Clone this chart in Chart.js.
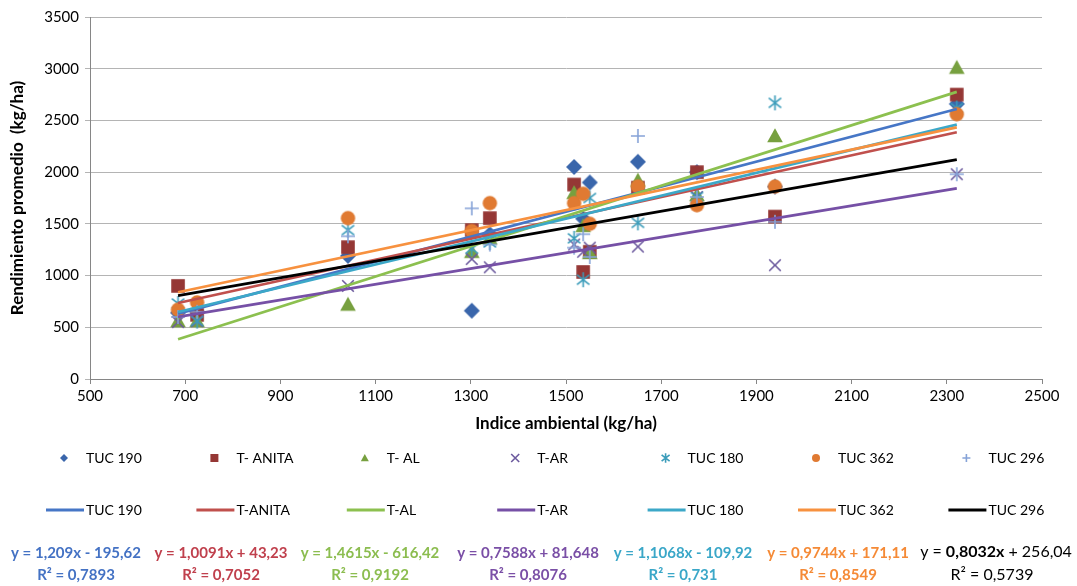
<!DOCTYPE html>
<html>
<head>
<meta charset="utf-8">
<script src="https://cdn.jsdelivr.net/npm/chart.js@4.4.1/dist/chart.umd.min.js"></script>
<style>
  html, body { margin: 0; padding: 0; background: #fff; }
  #wrap { position: relative; width: 1077px; height: 586px; }
</style>
</head>
<body>
<div id="wrap"><canvas id="grafico" width="1077" height="586"></canvas></div>
<script>
/* Rendimiento promedio vs índice ambiental — 7 genotipos */

// índice ambiental (kg/ha) de cada ambiente
const indiceAmbiental = [685, 725, 1042, 1302, 1340, 1517, 1536, 1550, 1651, 1775, 1939, 2321];

// rendimiento promedio (kg/ha) por genotipo, mismo orden de ambientes
const tuc190  = [640, 650, 1190, 660, 1400, 2050, 1550, 1900, 2100, 2000, 1860, 2660];
const tAnita  = [900, 620, 1275, 1440, 1555, 1880, 1035, 1230, 1850, 2000, 1570, 2750];
const tAl     = [560, 560, 720, 1230, 1360, 1800, 1480, 1220, 1920, 1780, 2350, 3010];
const tAr     = [550, 560, 900, 1160, 1080, 1300, 1230, 1270, 1280, 1760, 1100, 1980];
const tuc180  = [730, 560, 1440, 1260, 1320, 1360, 960, 1750, 1510, 1760, 2670, 2620];
const tuc362  = [670, 740, 1555, 1430, 1700, 1700, 1790, 1500, 1860, 1680, 1860, 2560];
const tuc296  = [600, 650, 1380, 1650, 1300, 1270, 1400, 1180, 2350, 1760, 1520, 1980];

const nombresPuntos = ['TUC 190', 'T- ANITA', 'T- AL', 'T-AR', 'TUC 180', 'TUC 362', 'TUC 296'];
const nombresLineas = ['TUC 190', 'T-ANITA', 'T-AL', 'T-AR', 'TUC 180', 'TUC 362', 'TUC 296'];

// líneas de tendencia (tal como las muestra el gráfico)
const pendientes = [1.209, 1.0091, 1.4615, 0.7588, 1.1068, 0.9744, 0.8032];
const ordenadas  = [-195.62, 43.23, -616.42, 81.648, -109.92, 171.11, 256.04];
const ecuaciones = ['y = 1,209x - 195,62', 'y = 1,0091x + 43,23', 'y = 1,4615x - 616,42',
                    'y = 0,7588x + 81,648', 'y = 1,1068x - 109,92', 'y = 0,9744x + 171,11', 'y = 0,8032x + 256,04'];
const r2Textos   = ['R² = 0,7893', 'R² = 0,7052', 'R² = 0,9192', 'R² = 0,8076', 'R² = 0,731', 'R² = 0,8549', 'R² = 0,5739'];

const series = [tuc190, tAnita, tAl, tAr, tuc180, tuc362, tuc296];

// estilos
const marcas = [
  { tipo: 'rombo',     color: '#3a66ab', r: 8 },
  { tipo: 'cuadrado',  color: '#953735', r: 6.8 },
  { tipo: 'triangulo', color: '#77a03f', r: 7.8 },
  { tipo: 'equis',     color: '#6c5a9e', r: 5.8 },
  { tipo: 'asterisco', color: '#3b9cba', r: 6.2 },
  { tipo: 'circulo',   color: '#e07a32', r: 7.2 },
  { tipo: 'mas',       color: '#86a3d8', r: 7 },
];
const coloresLinea = ['#4676c6', '#c0504d', '#8cc04f', '#7650a6', '#3ca8c8', '#f7913f', '#000000'];
const coloresEcuacion = ['#4472c4', '#c0404d', '#8cbd50', '#7a4fa6', '#3aa7c8', '#f58a36', '#000000'];
const FUENTE = 'Lato, "Open Sans", sans-serif';

function dibujarMarca(ctx, tipo, x, y, r, color) {
  ctx.save();
  ctx.fillStyle = color;
  ctx.strokeStyle = color;
  ctx.lineWidth = 1.6;
  ctx.beginPath();
  switch (tipo) {
    case 'rombo':
      ctx.moveTo(x, y - r); ctx.lineTo(x + r, y); ctx.lineTo(x, y + r); ctx.lineTo(x - r, y);
      ctx.closePath(); ctx.fill(); break;
    case 'cuadrado':
      ctx.rect(x - r, y - r, 2 * r, 2 * r); ctx.fill(); break;
    case 'triangulo':
      ctx.moveTo(x, y - r); ctx.lineTo(x + r, y + r * 0.8); ctx.lineTo(x - r, y + r * 0.8);
      ctx.closePath(); ctx.fill(); break;
    case 'equis':
      ctx.moveTo(x - r, y - r); ctx.lineTo(x + r, y + r);
      ctx.moveTo(x + r, y - r); ctx.lineTo(x - r, y + r); ctx.stroke(); break;
    case 'asterisco':
      ctx.moveTo(x - r, y - r * 0.8); ctx.lineTo(x + r, y + r * 0.8);
      ctx.moveTo(x + r, y - r * 0.8); ctx.lineTo(x - r, y + r * 0.8);
      ctx.moveTo(x, y - r * 1.2); ctx.lineTo(x, y + r * 1.2); ctx.stroke(); break;
    case 'circulo':
      ctx.arc(x, y, r, 0, Math.PI * 2); ctx.fill(); break;
    case 'mas':
      ctx.moveTo(x - r, y); ctx.lineTo(x + r, y);
      ctx.moveTo(x, y - r); ctx.lineTo(x, y + r); ctx.stroke(); break;
  }
  ctx.restore();
}

function imagenMarca(m) {
  const c = document.createElement('canvas');
  const s = Math.ceil(m.r * 2 + 6);
  c.width = s; c.height = s;
  dibujarMarca(c.getContext('2d'), m.tipo, s / 2, s / 2, m.r, m.color);
  return c;
}

const xMin = Math.min(...indiceAmbiental);
const xMax = Math.max(...indiceAmbiental);

const datasets = [];
series.forEach((vals, i) => {
  datasets.push({
    label: nombresPuntos[i],
    data: indiceAmbiental.map((x, k) => ({ x, y: vals[k] })),
    pointStyle: imagenMarca(marcas[i]),
    pointRadius: marcas[i].r,
    showLine: false,
    order: 20 - i,
  });
});
series.forEach((vals, i) => {
  datasets.push({
    label: nombresLineas[i],
    data: [xMin, xMax].map(x => ({ x, y: pendientes[i] * x + ordenadas[i] })),
    showLine: true,
    borderColor: coloresLinea[i],
    borderWidth: 2.7,
    pointRadius: 0,
    order: 6 - i,
  });
});

const leyendaExcel = {
  id: 'leyendaExcel',
  afterDraw(chart) {
    const ctx = chart.ctx;
    ctx.save();
    ctx.textBaseline = 'middle';
    for (let i = 0; i < 7; i++) {
      // fila 1: marcadores
      const mx = 64 + i * 150.4;
      const m = marcas[i];
      dibujarMarca(ctx, m.tipo, mx, 458, 4, m.color);
      ctx.fillStyle = '#000';
      ctx.font = '14px ' + FUENTE;
      ctx.textAlign = 'left';
      ctx.fillText(nombresPuntos[i], mx + 22, 458);

      // fila 2: líneas de tendencia
      const lx = 46 + i * 150.4;
      ctx.strokeStyle = coloresLinea[i];
      ctx.lineWidth = 3.2;
      ctx.beginPath(); ctx.moveTo(lx, 510); ctx.lineTo(lx + 38, 510); ctx.stroke();
      ctx.fillText(nombresLineas[i], lx + 40, 510);

      // ecuaciones
      const cx = [76, 221, 370, 528, 683, 838, 996][i];
      ctx.fillStyle = coloresEcuacion[i];
      ctx.textAlign = 'center';
      if (i < 6) {
        ctx.font = 'bold 15px ' + FUENTE;
        ctx.fillText(ecuaciones[i], cx, 553);
        ctx.fillText(r2Textos[i], cx, 575);
      } else {
        const partes = ecuaciones[i].match(/^(y = )(\S+x)(.*)$/);
        const fN = '16px ' + FUENTE, fB = 'bold 16px ' + FUENTE;
        ctx.font = fN; const w1 = ctx.measureText(partes[1]).width, w3 = ctx.measureText(partes[3]).width;
        ctx.font = fB; const w2 = ctx.measureText(partes[2]).width;
        let x0 = cx - (w1 + w2 + w3) / 2;
        ctx.textAlign = 'left';
        ctx.font = fN; ctx.fillText(partes[1], x0, 552);
        ctx.font = fB; ctx.fillText(partes[2], x0 + w1, 552);
        ctx.font = fN; ctx.fillText(partes[3], x0 + w1 + w2, 552);
        ctx.textAlign = 'center';
        ctx.fillText(r2Textos[i], cx - 4, 575);
      }
    }
    ctx.restore();
  }
};

new Chart(document.getElementById('grafico'), {
  type: 'scatter',
  data: { datasets },
  options: {
    responsive: false,
    animation: false,
    events: [],
    layout: { padding: { top: 17, right: 35, left: 0, bottom: 149 } },
    plugins: { legend: { display: false }, tooltip: { enabled: false } },
    scales: {
      x: {
        type: 'linear', min: 500, max: 2500,
        afterFit(s) { s.height = 58; },
        ticks: { stepSize: 200, color: '#000', padding: 3, font: { family: FUENTE, size: 15 },
                 callback: v => String(v) },
        grid: { drawOnChartArea: false, drawTicks: true, tickLength: 5, color: '#868686' },
        border: { color: '#868686' },
        title: { display: true, text: 'Indice ambiental (kg/ha)', color: '#000',
                 font: { family: FUENTE, size: 17, weight: 'bold' }, padding: { top: 0, bottom: 3 } },
      },
      y: {
        min: 0, max: 3500,
        afterFit(s) { s.width = 90; },
        ticks: { stepSize: 500, color: '#000', padding: 6, font: { family: FUENTE, size: 15 },
                 callback: v => String(v) },
        grid: { color: '#b4b4b4', tickLength: 5 },
        border: { color: '#868686' },
        title: { display: true, text: 'Rendimiento promedio  (kg/ha)', color: '#000',
                 font: { family: FUENTE, size: 17, weight: 'bold' }, padding: { top: 7, bottom: 0 } },
      },
    },
  },
  plugins: [leyendaExcel],
});
</script>
</body>
</html>
